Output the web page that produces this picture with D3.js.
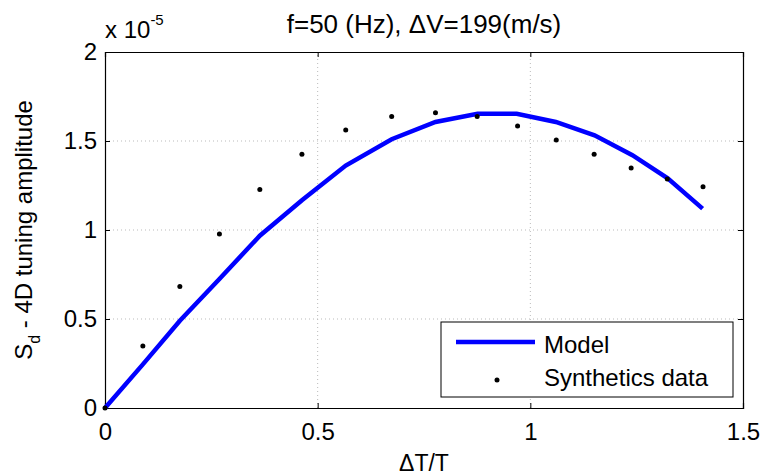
<!DOCTYPE html>
<html>
<head>
<meta charset="utf-8">
<script src="https://cdn.jsdelivr.net/npm/d3@7"></script>
<style>
  body { margin: 0; background: #fff; }
  text { font-family: "Liberation Sans", Arial, sans-serif; fill: #000; }
</style>
</head>
<body>
<div id="chart"></div>
<script>
// values in units of 1e-5
var xTicks = [0, 0.5, 1, 1.5];
var yTicks = [0, 0.5, 1, 1.5, 2];
var modelX = [0, 0.089, 0.176, 0.269, 0.364, 0.463, 0.566, 0.674, 0.777, 0.876, 0.968, 1.060, 1.151, 1.240, 1.323, 1.405];
var modelY = [0, 0.245, 0.49, 0.725, 0.968, 1.167, 1.362, 1.51, 1.607, 1.653, 1.653, 1.607, 1.532, 1.42, 1.29, 1.12];
var synthX = [0, 0.089, 0.176, 0.269, 0.364, 0.463, 0.566, 0.674, 0.777, 0.875, 0.970, 1.061, 1.150, 1.237, 1.322, 1.406];
var synthY = [0, 0.348, 0.682, 0.978, 1.227, 1.425, 1.562, 1.637, 1.659, 1.637, 1.584, 1.506, 1.425, 1.348, 1.287, 1.243];

var width = 767, height = 476;
var margin = {left: 105, right: 24, top: 52, bottom: 68};

var svg = d3.select("#chart").append("svg")
  .attr("width", width)
  .attr("height", height);

var x = d3.scaleLinear().domain([0, 1.5]).range([margin.left, width - margin.right]);
var y = d3.scaleLinear().domain([0, 2]).range([height - margin.bottom, margin.top]);

var x0 = x(0), x1 = x(1.5), y0 = y(0), y1 = y(2);

// grid
svg.append("g").selectAll("line").data(xTicks.slice(1, -1)).enter().append("line")
  .attr("x1", function(d) { return x(d); }).attr("x2", function(d) { return x(d); })
  .attr("y1", y0).attr("y2", y1)
  .attr("stroke", "#bbb").attr("stroke-dasharray", "1,3");
svg.append("g").selectAll("line").data(yTicks.slice(1, -1)).enter().append("line")
  .attr("y1", function(d) { return y(d); }).attr("y2", function(d) { return y(d); })
  .attr("x1", x0).attr("x2", x1)
  .attr("stroke", "#bbb").attr("stroke-dasharray", "1,3");

// axes with inner ticks
var fmt = function(d) { return d; };
svg.append("g").attr("transform", "translate(0," + y0 + ")")
  .call(d3.axisBottom(x).tickValues(xTicks).tickSize(-5).tickPadding(15).tickFormat(fmt));
svg.append("g").attr("transform", "translate(0," + y1 + ")")
  .call(d3.axisTop(x).tickValues(xTicks).tickSize(-5).tickFormat(""));
svg.append("g").attr("transform", "translate(" + x0 + ",0)")
  .call(d3.axisLeft(y).tickValues(yTicks).tickSize(-5).tickPadding(8).tickFormat(fmt));
svg.append("g").attr("transform", "translate(" + x1 + ",0)")
  .call(d3.axisRight(y).tickValues(yTicks).tickSize(-5).tickFormat(""));

svg.selectAll(".domain").attr("stroke", "#000").attr("stroke-width", 1.2);
svg.selectAll(".tick line").attr("stroke", "#000");
svg.selectAll(".tick text")
  .attr("font-size", 24)
  .attr("font-family", "'Liberation Sans', Arial, sans-serif");

// model line
var pts = modelX.map(function(d, i) { return [d, modelY[i]]; });
svg.append("path")
  .datum(pts)
  .attr("d", d3.line().x(function(d) { return x(d[0]); }).y(function(d) { return y(d[1]); }))
  .attr("fill", "none")
  .attr("stroke", "#0000ff")
  .attr("stroke-width", 4.5);

// synthetic dots
svg.append("g").selectAll("circle").data(synthX).enter().append("circle")
  .attr("cx", function(d) { return x(d); })
  .attr("cy", function(d, i) { return y(synthY[i]); })
  .attr("r", 2.5)
  .attr("fill", "#000");

// title and labels
svg.append("text").attr("x", 424).attr("y", 33).attr("text-anchor", "middle")
  .style("font-size", "26px").text("f=50 (Hz), \u0394V=199(m/s)");

var ex = svg.append("text").attr("x", 105).attr("y", 38).style("font-size", "24px");
ex.append("tspan").text("x 10");
ex.append("tspan").attr("dy", -13).style("font-size", "15px").text("-5");

svg.append("text").attr("x", 424).attr("y", 471).attr("text-anchor", "middle")
  .style("font-size", "23px").text("\u0394T/T");

var yl = svg.append("text")
  .attr("transform", "translate(32," + ((y0 + y1) / 2) + ") rotate(-90)")
  .attr("text-anchor", "middle")
  .style("font-size", "24px");
yl.append("tspan").text("S");
yl.append("tspan").attr("dy", 8).style("font-size", "16px").text("d");
yl.append("tspan").attr("dy", -8).text(" - 4D tuning amplitude");

// legend
var lg = svg.append("g");
lg.append("rect").attr("x", 441).attr("y", 322).attr("width", 292).attr("height", 75)
  .attr("fill", "#fff").attr("stroke", "#000");
lg.append("line").attr("x1", 456).attr("x2", 535).attr("y1", 342).attr("y2", 342)
  .attr("stroke", "#0000ff").attr("stroke-width", 4.5);
lg.append("circle").attr("cx", 497).attr("cy", 380).attr("r", 2.5).attr("fill", "#000");
lg.append("text").attr("x", 544).attr("y", 353).style("font-size", "24px").text("Model");
lg.append("text").attr("x", 544).attr("y", 386).style("font-size", "24px").text("Synthetics data");
</script>
</body>
</html>
